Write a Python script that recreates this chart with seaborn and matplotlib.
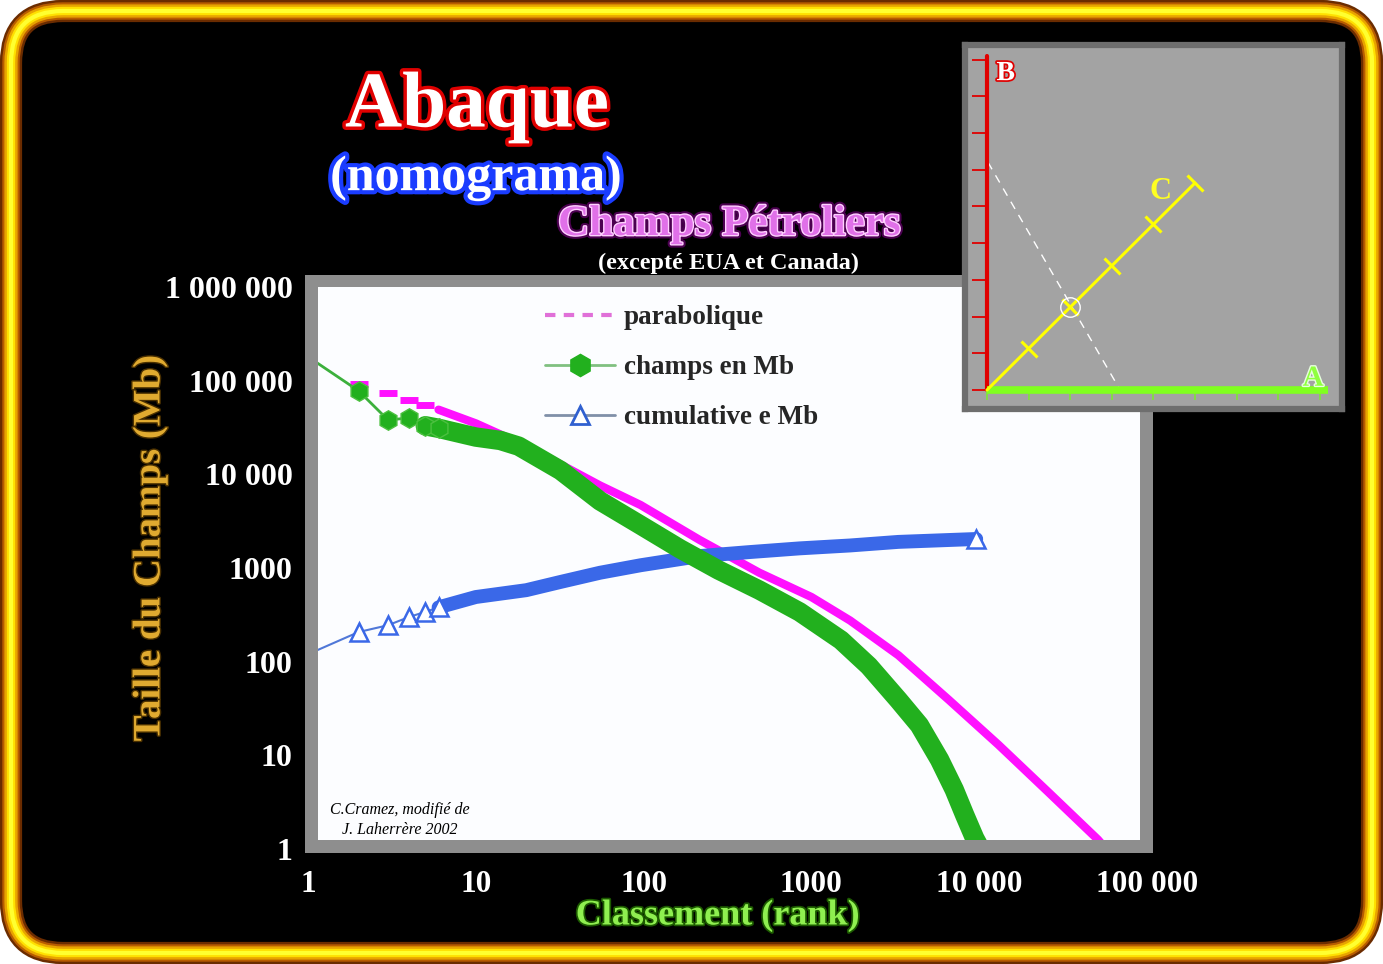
import numpy as np
import pandas as pd
import matplotlib.pyplot as plt
import matplotlib.patheffects as pe
from matplotlib.patches import FancyBboxPatch, Rectangle
from matplotlib.lines import Line2D
from matplotlib.markers import MarkerStyle
from matplotlib.transforms import Affine2D
from matplotlib.ticker import NullLocator
import seaborn as sns

# values: rank vs field size (Mb)
champs_rank = [1, 2, 3, 4, 5, 6, 10, 14, 18, 32, 55, 95, 165, 280, 490, 850,
               1500, 2200, 3300, 4400, 5800, 7100, 8200, 9400, 10500]
champs_mb = [180000, 78000, 38000, 40000, 33000, 31000, 25000, 23000, 20000,
             11000, 5200, 2900, 1600, 950, 580, 340, 170, 90, 39, 21, 9, 4.3,
             2.3, 1.3, 0.9]

cumul_rank = [1, 2, 3, 4, 5, 6, 10, 20, 32, 55, 96, 215, 430, 850, 1700,
              3300, 6600, 9600]
cumul_mb = [120, 207, 245, 300, 340, 380, 490, 580, 710, 890, 1070, 1340,
            1480, 1620, 1740, 1900, 1990, 2040]

parab_rank = [2, 3, 4, 5, 6, 10, 20, 55, 96, 215, 490, 1000, 1700, 3300,
              6600, 13000, 26000, 51000, 60000]
parab_mb = [93000, 74000, 62000, 55000, 49000, 35000, 20000, 7600, 4700,
            2000, 890, 490, 275, 117, 39, 13, 4, 1.26, 0.9]

x_ticks = [1, 10, 100, 1000, 10000, 100000]
x_labels = ['1', '10', '100', '1000', '10 000', '100 000']
y_ticks = [1, 10, 100, 1000, 10000, 100000, 1000000]
y_labels = ['1', '10', '100', '1000', '10 000', '100 000', '1 000 000']

# nomogram inset (A, B scales and C line)
a_ticks = [0, 1, 2, 3, 4, 5, 6, 7, 8]
b_ticks = [0, 1, 2, 3, 4, 5, 6, 7, 8, 9]
c_x = [0, 1, 2, 3, 4, 5]
c_y = [0, 1.128, 2.256, 3.384, 4.512, 5.64]
guide_x = [0.02, 3.2]
guide_y = [6.21, 0]

champs = pd.DataFrame({'rank': champs_rank, 'mb': champs_mb})
cumul = pd.DataFrame({'rank': cumul_rank, 'mb': cumul_mb})
parab = pd.DataFrame({'rank': parab_rank, 'mb': parab_mb})

sns.set_style('white')
plt.rcParams['font.family'] = ['Liberation Serif', 'DejaVu Serif']
plt.rcParams['font.weight'] = 'bold'

W, H = 1383, 964
fig = plt.figure(figsize=(W / 100, H / 100), dpi=100, facecolor='white')

# background in pixel coordinates
bg = fig.add_axes([0, 0, 1, 1])
bg.set_xlim(0, W)
bg.set_ylim(H, 0)
bg.axis('off')

frame = FancyBboxPatch((11, 11), W - 22, H - 22,
                       boxstyle='round,pad=0,rounding_size=52',
                       fc='black', ec='none')
bg.add_patch(frame)
for lw, col in [(16, '#6b2c00'), (12.5, '#b85c00'), (9.5, '#e8a400'),
                (6, '#ffe000'), (3, '#ffff30')]:
    bg.add_patch(FancyBboxPatch((11, 11), W - 22, H - 22,
                                boxstyle='round,pad=0,rounding_size=52',
                                fc='none', ec=col, lw=lw))

bg.add_patch(Rectangle((305, 275), 848, 578, fc='#8e8e8e', ec='none'))
white = Rectangle((318, 287), 822, 553, fc='#fcfdff', ec='none')
bg.add_patch(white)

# main chart
ax = fig.add_axes([308 / W, 1 - 849 / H, 839 / W, 562 / H])
ax.set_facecolor('none')
ax.set_xscale('log')
ax.set_yscale('log')

pink = '#ff10ff'
green = '#22b01e'
blue = '#3a68e8'

# parabolique
sns.lineplot(data=parab, x='rank', y='mb', ax=ax, color=pink, lw=0,
             marker='_', ms=13, markeredgewidth=5, markeredgecolor=pink,
             markevery=[0, 1, 2, 3], estimator=None, sort=False)
sns.lineplot(data=parab[parab['rank'] >= 6], x='rank', y='mb', ax=ax,
             color=pink, lw=6, estimator=None, sort=False)

# cumulative
sns.lineplot(data=cumul, x='rank', y='mb', ax=ax, color='#5078d8', lw=1.5,
             estimator=None, sort=False)
sns.lineplot(data=cumul[cumul['rank'] >= 6], x='rank', y='mb', ax=ax,
             color=blue, lw=10, estimator=None, sort=False)
sns.lineplot(data=cumul, x='rank', y='mb', ax=ax, lw=0, marker='^', ms=13,
             mfc='white', mec=blue, mew=1.8,
             markevery=[1, 2, 3, 4, 5, len(cumul_rank) - 1],
             estimator=None, sort=False)

# champs en Mb
sns.lineplot(data=champs, x='rank', y='mb', ax=ax, color='#3cb03c', lw=2,
             estimator=None, sort=False)
sns.lineplot(data=champs[champs['rank'] >= 5], x='rank', y='mb', ax=ax,
             color=green, lw=14, estimator=None, sort=False,
             solid_capstyle='round')
sns.lineplot(data=champs, x='rank', y='mb', ax=ax, lw=0, marker='h', ms=14,
             mfc=green, mec='#4cc040', mew=1, markevery=[1, 2, 3, 4, 5],
             estimator=None, sort=False)

for ln in ax.lines:
    ln.set_clip_path(white)

ax.set_xlim(1, 1e5)
ax.set_ylim(1, 1e6)
ax.set_xticks(x_ticks)
ax.set_xticklabels(x_labels)
ax.set_yticks(y_ticks)
ax.set_yticklabels(y_labels)
ax.xaxis.set_minor_locator(NullLocator())
ax.yaxis.set_minor_locator(NullLocator())
ax.tick_params(axis='x', length=0, pad=15, labelsize=22.5, labelcolor='white')
ax.tick_params(axis='y', length=0, pad=11, labelsize=23, labelcolor='white')
for lab in ax.get_xticklabels() + ax.get_yticklabels():
    lab.set_fontweight('bold')
for s in ax.spines.values():
    s.set_visible(False)
ax.set_xlabel('')
ax.set_ylabel('')

handles = [
    Line2D([], [], color='#e070d8', lw=3, ls=(0, (2.5, 2))),
    Line2D([], [], color='#80c080', lw=2, marker='h', ms=16, mfc=green,
           mec=green),
    Line2D([], [], color='#8090a8', lw=2, marker='^', ms=13, mfc='white',
           mec='#3060d0', mew=2),
]
ax.legend(handles, ['parabolique', 'champs en Mb', 'cumulative e Mb'],
          loc='upper left', bbox_to_anchor=(0.2825, 0.968), frameon=False,
          borderpad=0, borderaxespad=0, handlelength=2.6, handletextpad=0.3,
          labelspacing=0.93, prop=dict(family='Liberation Serif',
                                       weight='bold', size=19.5))

# titles and axis names
bg.text(477, 108, 'Abaque', ha='center', va='center', fontsize=57,
        color='white', fontweight='bold',
        path_effects=[pe.withStroke(linewidth=5, foreground='#e00000')])
bg.text(476, 178, '(nomograma)', ha='center', va='center', fontsize=36,
        color='white', fontweight='bold',
        path_effects=[pe.withStroke(linewidth=6, foreground='#1a3cff')])
bg.text(729, 225, 'Champs Pétroliers', ha='center', va='center', fontsize=31,
        color='#e070e8', fontweight='bold',
        path_effects=[pe.Stroke(linewidth=5, foreground='#4b0050'),
                      pe.Stroke(linewidth=2, foreground='#ffd0ff'),
                      pe.Normal()])
bg.text(729, 263, '(excepté EUA et Canada)', ha='center', va='center',
        fontsize=17.5, color='white', fontweight='bold')
bg.text(150, 548, 'Taille du Champs (Mb)', ha='center', va='center',
        rotation=90, fontsize=28, color='#e0aa30', fontweight='bold',
        path_effects=[pe.withStroke(linewidth=2, foreground='#4a3000')])
bg.text(718, 916, 'Classement (rank)', ha='center', va='center',
        fontsize=26, color='#8fef50', fontweight='bold',
        path_effects=[pe.withStroke(linewidth=2.5, foreground='#1c5a00')])
bg.text(400, 820, 'C.Cramez, modifié de\nJ. Laherrère 2002', ha='center',
        va='center', fontsize=11.5, style='italic', color='black',
        fontweight='normal', linespacing=1.3, zorder=5)

# nomogram inset
ins = fig.add_axes([965 / W, 1 - 409 / H, 377 / W, 364 / H])
ins.set_facecolor('#a3a3a3')
ins.set_xlim(-0.529, 8.534)
ins.set_ylim(-0.518, 9.40)
ins.set_xticks([])
ins.set_yticks([])
for s in ins.spines.values():
    s.set_color('#6e6e6e')
    s.set_linewidth(4.5)

ins.plot(guide_x, guide_y, color='white', lw=1, ls=(0, (6, 5)))
ins.hlines(b_ticks, -0.36, 0, color='#e00000', lw=1.3)
ins.plot([0, 0], [0, 9.1], color='#e00000', lw=3)
ins.vlines(a_ticks, -0.27, 0, color='#80e040', lw=1.3)
ins.plot([0, 8.2], [0, 0], color='#80ff20', lw=5.5, solid_capstyle='butt')
ins.plot(c_x, c_y, color='#ffff00', lw=2.2)
tick_mark = MarkerStyle('_', transform=Affine2D().rotate_deg(-45.4))
ins.plot(c_x[1:], c_y[1:], lw=0, marker=tick_mark, ms=17, mew=2.2,
         color='#ffff00')
ins.plot(c_x[2], c_y[2], marker='o', ms=14, mfc='none', mec='white', mew=1)
ins.text(0.45, 8.62, 'B', fontsize=20, color='white', fontweight='bold',
         ha='center', va='center',
         path_effects=[pe.withStroke(linewidth=2.5, foreground='#e00000')])
ins.text(4.16, 5.4, 'C', fontsize=22, color='#ffff20', fontweight='bold',
         ha='center', va='center')
ins.text(7.84, 0.32, 'A', fontsize=21, color='#90ff40', fontweight='bold',
         ha='center', va='center',
         path_effects=[pe.withStroke(linewidth=2, foreground='#e8ffe0')])

fig.savefig('out.png', dpi=100)
